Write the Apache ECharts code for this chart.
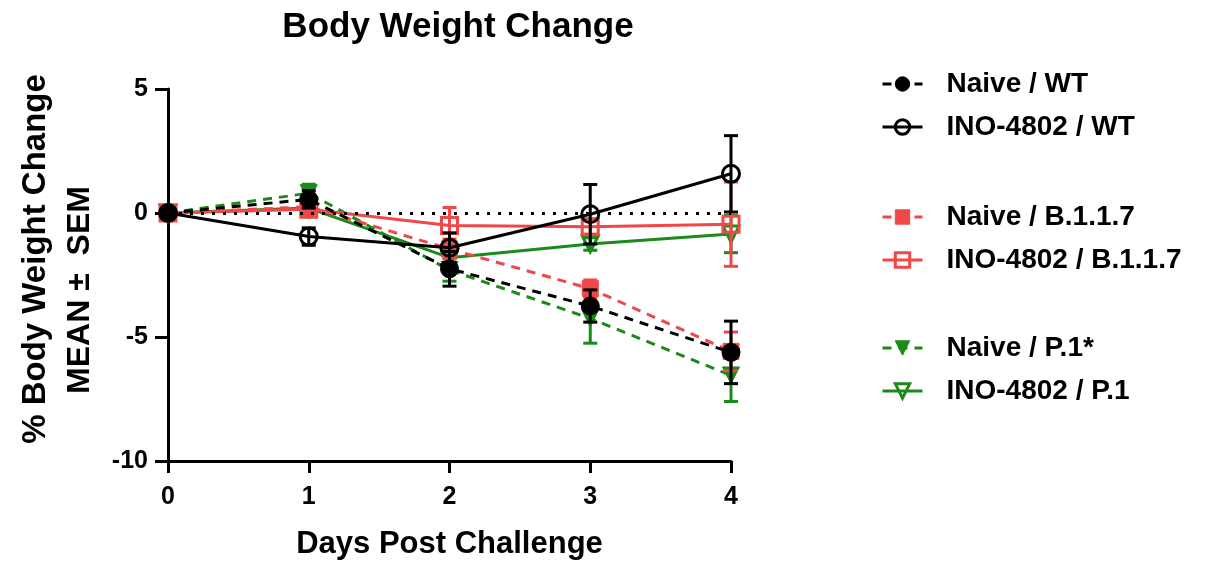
<!DOCTYPE html>
<html>
<head>
<meta charset="utf-8">
<script src="https://cdn.jsdelivr.net/npm/echarts@6/dist/echarts.min.js"></script>
<style>html,body{margin:0;padding:0;background:#fff}#c{width:1209px;height:565px}</style>
</head>
<body>
<div id="c"></div>
<script>
var days = [0, 1, 2, 3, 4];
var xTicks = [0, 1, 2, 3, 4];
var yTicks = [-10, -5, 0, 5];

var naiveWT = [0, 0.55, -2.25, -3.75, -5.62];
var naiveWTsem = [0, 0.35, 0.7, 0.65, 1.26];
var inoWT = [0, -0.95, -1.4, -0.05, 1.58];
var inoWTsem = [0, 0.35, 0.6, 1.2, 1.54];
var naiveB = [0, 0.25, -1.45, -3.05, -5.58];
var naiveBsem = [0, 0.3, 0.4, 0.35, 0.78];
var inoB = [0, 0.15, -0.5, -0.55, -0.45];
var inoBsem = [0, 0.3, 0.72, 0.3, 1.7];
var naiveP = [0, 0.8, -2.3, -4.25, -6.55];
var naivePsem = [0, 0.36, 0.45, 1.0, 1.05];
var inoP = [0, 0.2, -1.8, -1.25, -0.85];
var inoPsem = [0, 0.3, 0.4, 0.25, 0.75];

var BLACK = '#000000', RED = '#f04848', GREEN = '#1a8a1a';
var FONT = '"Liberation Sans", Arial, sans-serif';

function pts(vals) { return days.map(function (d, i) { return [d, vals[i]]; }); }
function errPts(vals, sems) { return days.map(function (d, i) { return [d, vals[i], sems[i]]; }); }

function errSeries(name, vals, sems, color, z) {
  return {
    name: name + ' SEM', type: 'custom', z: z, silent: true,
    data: errPts(vals, sems),
    renderItem: function (params, api) {
      var x = api.value(0), m = api.value(1), s = api.value(2);
      if (!s) return { type: 'group', children: [] };
      var top = api.coord([x, m + s]);
      var bot = api.coord([x, m - s]);
      var w = 7;
      var st = { stroke: color, lineWidth: 3, fill: null };
      return {
        type: 'group',
        children: [
          { type: 'line', shape: { x1: top[0], y1: top[1], x2: bot[0], y2: bot[1] }, style: st },
          { type: 'line', shape: { x1: top[0] - w, y1: top[1], x2: top[0] + w, y2: top[1] }, style: st },
          { type: 'line', shape: { x1: bot[0] - w, y1: bot[1], x2: bot[0] + w, y2: bot[1] }, style: st }
        ]
      };
    }
  };
}

function lineSeries(name, vals, color, dashed, symbol, filled, size, rotate, z) {
  return {
    name: name, type: 'line', z: z,
    data: pts(vals),
    symbol: symbol, symbolSize: size, symbolRotate: rotate || 0,
    showAllSymbol: true,
    lineStyle: { color: color, width: 3, type: dashed ? [9, 7] : 'solid' },
    itemStyle: filled ? { color: color, borderColor: color, borderWidth: 1 }
                      : { color: 'rgba(255,255,255,0)', borderColor: color, borderWidth: 3 },
    emphasis: { disabled: true }
  };
}

var series = [
  errSeries('Naive / P.1*', naiveP, naivePsem, GREEN, 2),
  errSeries('INO-4802 / P.1', inoP, inoPsem, GREEN, 2),
  lineSeries('Naive / P.1*', naiveP, GREEN, true, 'triangle', true, 17, 180, 2),
  lineSeries('INO-4802 / P.1', inoP, GREEN, false, 'triangle', false, 16, 180, 2),
  errSeries('Naive / B.1.1.7', naiveB, naiveBsem, RED, 3),
  errSeries('INO-4802 / B.1.1.7', inoB, inoBsem, RED, 3),
  lineSeries('Naive / B.1.1.7', naiveB, RED, true, 'rect', true, 16, 0, 3),
  lineSeries('INO-4802 / B.1.1.7', inoB, RED, false, 'rect', false, 16, 0, 3),
  errSeries('Naive / WT', naiveWT, naiveWTsem, BLACK, 4),
  errSeries('INO-4802 / WT', inoWT, inoWTsem, BLACK, 4),
  lineSeries('Naive / WT', naiveWT, BLACK, true, 'circle', true, 18, 0, 4),
  lineSeries('INO-4802 / WT', inoWT, BLACK, false, 'circle', false, 17, 0, 4)
];
series[10].markLine = {
  silent: true, symbol: 'none', label: { show: false },
  lineStyle: { color: BLACK, width: 3, type: [3, 8] },
  data: [{ yAxis: 0 }]
};

function legend(top, names) {
  return {
    top: top, left: 876, orient: 'vertical',
    itemWidth: 40, itemHeight: 18, itemGap: 15,
    selectedMode: false,
    data: names,
    lineStyle: { width: 3 },
    itemStyle: { borderWidth: 'inherit' },
    textStyle: { fontSize: 28, fontWeight: 'bold', color: '#000', fontFamily: FONT, padding: [0, 0, 0, 19] }
  };
}

var chart = echarts.init(document.getElementById('c'), null, { renderer: 'canvas' });
chart.setOption({
  animation: false,
  backgroundColor: '#fff',
  title: {
    text: 'Body Weight Change', left: 453, top: 5, textAlign: 'center',
    textStyle: { fontSize: 35, fontWeight: 'bold', color: '#000', fontFamily: FONT }
  },
  legend: [
    legend(65, ['Naive / WT', 'INO-4802 / WT']),
    legend(198, ['Naive / B.1.1.7', 'INO-4802 / B.1.1.7']),
    legend(329, ['Naive / P.1*', 'INO-4802 / P.1'])
  ],
  grid: { left: 168, right: 478, top: 89, bottom: 102, containLabel: false },
  xAxis: {
    type: 'value', min: xTicks[0], max: xTicks[xTicks.length - 1], interval: 1,
    name: 'Days Post Challenge', nameLocation: 'middle', nameGap: 68,
    nameTextStyle: { fontSize: 31, fontWeight: 'bold', color: '#000', fontFamily: FONT },
    axisLine: { onZero: false, lineStyle: { color: '#000', width: 3 } },
    axisTick: { length: 12, lineStyle: { color: '#000', width: 3 } },
    axisLabel: { margin: 24, fontSize: 25, fontWeight: 'bold', color: '#000', fontFamily: FONT },
    splitLine: { show: false }
  },
  yAxis: {
    type: 'value', min: yTicks[0], max: yTicks[yTicks.length - 1], interval: 5,
    axisLine: { onZero: false, lineStyle: { color: '#000', width: 3 } },
    axisTick: { length: 13, lineStyle: { color: '#000', width: 3 } },
    axisLabel: { margin: 20, fontSize: 25, fontWeight: 'bold', color: '#000', fontFamily: FONT },
    splitLine: { show: false }
  },
  graphic: [
    { type: 'text', x: 36, y: 259, rotation: Math.PI / 2,
      style: { text: '% Body Weight Change', fontSize: 33, fontWeight: 'bold', fill: '#000', fontFamily: FONT, align: 'center', verticalAlign: 'middle' } },
    { type: 'text', x: 80, y: 290, rotation: Math.PI / 2,
      style: { text: 'MEAN \u00B1  SEM', fontSize: 32, fontWeight: 'bold', fill: '#000', fontFamily: FONT, align: 'center', verticalAlign: 'middle' } }
  ],
  series: series
});
</script>
</body>
</html>
